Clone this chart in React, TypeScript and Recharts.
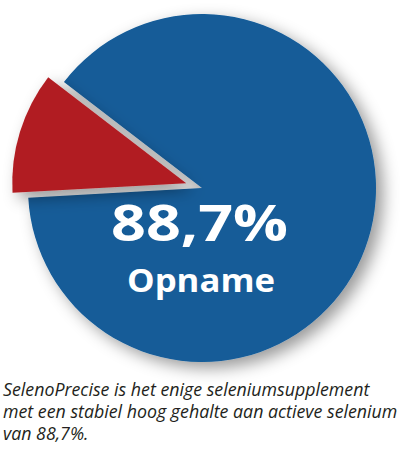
import { Cell, Pie, PieChart } from "recharts"

const labels = ["Opname", "Overig"]
const shares = [88.7, 11.3]
const colors = ["#135b98", "#b11e23"]
const headline = "88,7%"
const caption = [
  "SelenoPrecise is het enige seleniumsupplement",
  "met een stabiel hoog gehalte aan actieve selenium",
  "van 88,7%.",
]

const data = labels.map((name, i) => ({ name, value: shares[i] }))

const W = 414
const H = 451
const CX = 202
const CY = 188
const R = 174
const START = 142.5
const EXPLODE = 16.5

// the small slice sits at [START, START + sweep]; push it out along its middle
const total = shares.reduce((a, b) => a + b, 0)
const smallMid = ((START + (shares[1] / total) * 180) * Math.PI) / 180
const dx = EXPLODE * Math.cos(smallMid)
const dy = -EXPLODE * Math.sin(smallMid)

function slices(visible: number) {
  return data.map((d, i) => (
    <Cell
      key={d.name}
      fill={i === visible ? colors[i] : "transparent"}
      filter={i === visible ? "url(#pieShadow)" : undefined}
    />
  ))
}

export default function App() {
  return (
    <div style={{ position: "absolute", left: 0, top: 0, width: W, height: H, background: "#fff" }}>
      <svg width={0} height={0} style={{ position: "absolute" }}>
        <defs>
          <filter id="pieShadow" x="-20%" y="-20%" width="150%" height="150%">
            <feDropShadow dx={7} dy={6} stdDeviation={8} floodColor="#000" floodOpacity={0.4} />
          </filter>
        </defs>
      </svg>
      <PieChart width={W} height={H} margin={{ top: 0, right: 0, bottom: 0, left: 0 }}>
        <Pie
          data={data}
          dataKey="value"
          cx={CX}
          cy={CY}
          outerRadius={R}
          startAngle={START}
          endAngle={START - 360}
          stroke="none"
          isAnimationActive={false}
        >
          {slices(0)}
        </Pie>
        <Pie
          data={data}
          dataKey="value"
          cx={CX + dx}
          cy={CY + dy}
          outerRadius={R}
          startAngle={START}
          endAngle={START - 360}
          stroke="none"
          isAnimationActive={false}
        >
          {slices(1)}
        </Pie>
      </PieChart>
      <svg
        width={W}
        height={H}
        style={{ position: "absolute", left: 0, top: 0, pointerEvents: "none" }}
      >
        <text
          x={111}
          y={241}
          fill="#fff"
          fontFamily="'Open Sans', sans-serif"
          fontWeight={700}
          fontSize={51}
          textLength={177}
          lengthAdjust="spacingAndGlyphs"
        >
          {headline}
        </text>
        <text
          x={127}
          y={292}
          fill="#fff"
          fontFamily="'Open Sans', sans-serif"
          fontWeight={700}
          fontSize={32}
          textLength={148}
          lengthAdjust="spacingAndGlyphs"
        >
          {labels[0]}
        </text>
        {caption.map((line, i) => (
          <text
            key={i}
            x={3}
            y={396 + i * 22}
            fill="#231f20"
            fontFamily="'Open Sans', sans-serif"
            fontStyle="italic"
            fontSize={17.8}
          >
            {line}
          </text>
        ))}
      </svg>
    </div>
  )
}
